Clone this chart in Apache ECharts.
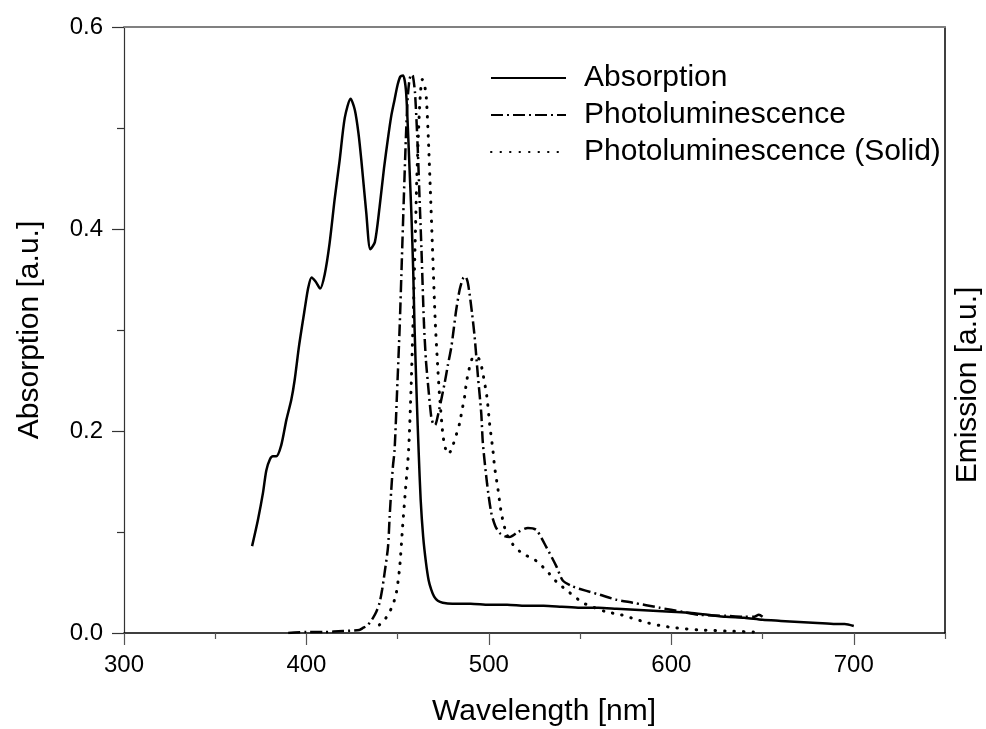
<!DOCTYPE html>
<html>
<head>
<meta charset="utf-8">
<script src="https://cdn.jsdelivr.net/npm/echarts@6/dist/echarts.min.js"></script>
<style>
  html, body { margin: 0; padding: 0; background: #fff; }
  #chart { width: 986px; height: 729px; }
</style>
</head>
<body>
<div id="chart"></div>
<script>
// absorption spectrum (solid line)
const absWl = [370.2, 373.4, 376.2, 378, 380, 381.6, 383.5, 386.2, 389, 391.7, 393.5, 396, 399, 401, 402.8, 405, 407.5, 410, 412.7, 415.5, 418.2, 421, 424.2, 426.5, 428.5, 430.1, 432.8, 435, 437.5, 440.1, 442.5, 444.7, 446.5, 448.3, 450, 451.5, 453, 454.5, 455.6, 456.5, 457.5, 458.5, 459.3, 460.5, 461.5, 462.6, 464, 465.5, 467, 468.4, 470, 472, 474.7, 480, 490, 500, 510, 520, 530, 540, 550, 560, 570, 580, 590, 600, 610, 620, 630, 640, 650, 660, 670, 680, 690, 695, 700];
const absVal = [0.086, 0.112, 0.139, 0.161, 0.172, 0.175, 0.175, 0.186, 0.211, 0.231, 0.25, 0.285, 0.32, 0.342, 0.352, 0.348, 0.341, 0.355, 0.386, 0.43, 0.468, 0.51, 0.529, 0.518, 0.495, 0.468, 0.416, 0.38, 0.387, 0.422, 0.46, 0.49, 0.512, 0.528, 0.543, 0.551, 0.552, 0.538, 0.5, 0.46, 0.416, 0.36, 0.3, 0.23, 0.18, 0.132, 0.095, 0.07, 0.052, 0.043, 0.036, 0.032, 0.030, 0.029, 0.029, 0.028, 0.028, 0.027, 0.027, 0.026, 0.025, 0.025, 0.024, 0.023, 0.022, 0.021, 0.020, 0.018, 0.016, 0.015, 0.013, 0.012, 0.011, 0.010, 0.009, 0.009, 0.007];

// photoluminescence in solution (dash-dot)
const plWl = [390, 400, 410, 420, 429, 431, 433, 434.6, 436.5, 438.3, 440.1, 441.5, 442.8, 444.7, 445.6, 446.5, 447.4, 448.3, 449.7, 451.1, 452.3, 453.4, 454.5, 455.5, 456.5, 457.5, 458.3, 459.5, 461, 462, 463, 464.4, 465.5, 466.6, 468.4, 469.5, 470.5, 472, 474, 475.7, 477.5, 479.4, 480.8, 482.1, 484, 485.8, 487, 488.3, 489.4, 490.8, 492.2, 494, 495.8, 496.7, 499, 501.3, 503.5, 505.9, 508.5, 511.3, 516, 521.4, 526, 531.5, 537, 540.5, 546, 553, 560.6, 569.8, 578.8, 593.6, 606, 615.4, 630, 640, 645, 648, 650];
const plVal = [0.0, 0.001, 0.001, 0.002, 0.003, 0.005, 0.007, 0.01, 0.015, 0.021, 0.03, 0.043, 0.059, 0.085, 0.115, 0.142, 0.165, 0.181, 0.24, 0.303, 0.37, 0.432, 0.49, 0.53, 0.548, 0.553, 0.552, 0.535, 0.48, 0.43, 0.382, 0.307, 0.27, 0.247, 0.214, 0.207, 0.206, 0.215, 0.232, 0.247, 0.265, 0.283, 0.302, 0.32, 0.34, 0.351, 0.353, 0.348, 0.336, 0.316, 0.293, 0.254, 0.218, 0.188, 0.148, 0.119, 0.106, 0.099, 0.096, 0.095, 0.1, 0.104, 0.102, 0.085, 0.066, 0.052, 0.046, 0.042, 0.038, 0.033, 0.030, 0.025, 0.021, 0.018, 0.017, 0.016, 0.016, 0.018, 0.016];

// photoluminescence of the solid (dotted)
const solWl = [440, 442.8, 445, 447.4, 449.3, 451.1, 452.7, 454.2, 456, 457.3, 458.4, 459.5, 460.5, 461.5, 462.5, 463.5, 464.5, 465.7, 466.8, 467.9, 469.3, 470.6, 472, 473, 474.8, 476, 477.5, 479, 480.5, 482.1, 484, 485.2, 486.7, 487.6, 489, 490.9, 493.1, 495, 496.4, 498.9, 500.4, 502.2, 503.1, 505, 506.8, 509.5, 513, 516.8, 520, 524.1, 528, 531.5, 536.9, 544.2, 551.5, 558, 564.3, 572.5, 579.8, 587.1, 595, 602.7, 615.5, 630, 645];
const solVal = [0.008, 0.013, 0.019, 0.028, 0.04, 0.065, 0.105, 0.14, 0.181, 0.24, 0.305, 0.38, 0.45, 0.5, 0.535, 0.548, 0.545, 0.53, 0.49, 0.439, 0.37, 0.308, 0.262, 0.234, 0.196, 0.184, 0.177, 0.18, 0.187, 0.196, 0.208, 0.22, 0.234, 0.247, 0.26, 0.272, 0.274, 0.27, 0.26, 0.234, 0.207, 0.181, 0.165, 0.142, 0.119, 0.099, 0.088, 0.081, 0.077, 0.074, 0.068, 0.062, 0.051, 0.04, 0.03, 0.025, 0.021, 0.018, 0.014, 0.010, 0.007, 0.005, 0.003, 0.002, 0.001];

const majorX = [300, 400, 500, 600, 700];
const minorX = [350, 450, 550, 650, 750];
const seriesNames = ["Absorption", "Photoluminescence", "Photoluminescence (Solid)"];

const FONT = "Liberation Sans, Arial, sans-serif";
const zip = (xs, ys) => xs.map((x, i) => [x, ys[i]]);

const chart = echarts.init(document.getElementById("chart"));

const lineSeries = (name, wl, val, lineStyle) => ({
  name,
  type: "line",
  xAxisIndex: 0,
  yAxisIndex: 0,
  data: zip(wl, val),
  symbol: "none",
  smooth: 0.25,
  lineStyle: Object.assign({ color: "#000", width: 2.5 }, lineStyle),
  itemStyle: { color: "#000" },
});

chart.setOption({
  animation: false,
  backgroundColor: "#fff",
  textStyle: { fontFamily: FONT },
  grid: { left: 124, right: 41, top: 27, bottom: 96 },
  legend: {
    data: seriesNames,
    orient: "vertical",
    left: 485,
    top: 58,
    itemWidth: 75,
    itemHeight: 14,
    itemGap: 7,
    // hide the marker dot, keep only the line sample
    itemStyle: { opacity: 0 },
    textStyle: {
      fontFamily: FONT,
      fontSize: 30,
      lineHeight: 30,
      color: "#000",
      padding: [0, 0, 0, 13],
    },
  },
  xAxis: [
    {
      type: "value",
      min: 300,
      max: 750,
      interval: 50,
      position: "bottom",
      axisLine: { show: true, lineStyle: { color: "#000", width: 1.5 } },
      axisTick: { show: true, customValues: majorX, length: 12, lineStyle: { color: "#555", width: 1.2 } },
      axisLabel: { customValues: majorX, fontSize: 24, color: "#000", margin: 20, fontFamily: FONT },
      splitLine: { show: false },
    },
    {
      type: "value",
      min: 300,
      max: 750,
      interval: 50,
      position: "bottom",
      axisLine: { show: false },
      axisTick: { show: true, customValues: minorX, length: 6, lineStyle: { color: "#555", width: 1.2 } },
      axisLabel: { show: false },
      splitLine: { show: false },
    },
    {
      type: "value",
      min: 300,
      max: 750,
      position: "top",
      axisLine: { show: true, lineStyle: { color: "#808080", width: 2 } },
      axisTick: { show: false },
      axisLabel: { show: false },
      splitLine: { show: false },
    },
  ],
  yAxis: [
    {
      type: "value",
      min: 0,
      max: 0.6,
      interval: 0.2,
      position: "left",
      name: "Absorption [a.u.]",
      nameLocation: "middle",
      nameGap: 79,
      nameTextStyle: { fontSize: 30, color: "#000", fontFamily: FONT },
      axisLine: { show: true, lineStyle: { color: "#333", width: 1.2 } },
      axisTick: { show: true, length: 12, lineStyle: { color: "#333", width: 1.2 } },
      minorTick: { show: true, splitNumber: 2, length: 7, lineStyle: { color: "#333", width: 1.2 } },
      axisLabel: {
        fontSize: 24,
        color: "#000",
        margin: 21,
        fontFamily: FONT,
        formatter: (v) => v.toFixed(1),
      },
      splitLine: { show: false },
      minorSplitLine: { show: false },
    },
    {
      type: "value",
      min: 0,
      max: 0.6,
      position: "right",
      axisLine: { show: true, lineStyle: { color: "#000", width: 1.5 } },
      axisTick: { show: false },
      axisLabel: { show: false },
      splitLine: { show: false },
    },
  ],
  graphic: [
    {
      type: "text",
      left: 432,
      top: 697,
      style: { text: "Wavelength [nm]", font: "30px " + FONT, fill: "#000" },
    },
    {
      type: "text",
      x: 968,
      y: 385,
      rotation: Math.PI / 2,
      style: {
        text: "Emission [a.u.]",
        font: "30px " + FONT,
        fill: "#000",
        align: "center",
        verticalAlign: "middle",
      },
    },
  ],
  series: [
    lineSeries(seriesNames[0], absWl, absVal, { type: "solid" }),
    lineSeries(seriesNames[1], plWl, plVal, { type: [12, 4, 2, 4] }),
    lineSeries(seriesNames[2], solWl, solVal, { type: [0.5, 9], cap: "round", width: 3 }),
  ],
});
</script>
</body>
</html>
